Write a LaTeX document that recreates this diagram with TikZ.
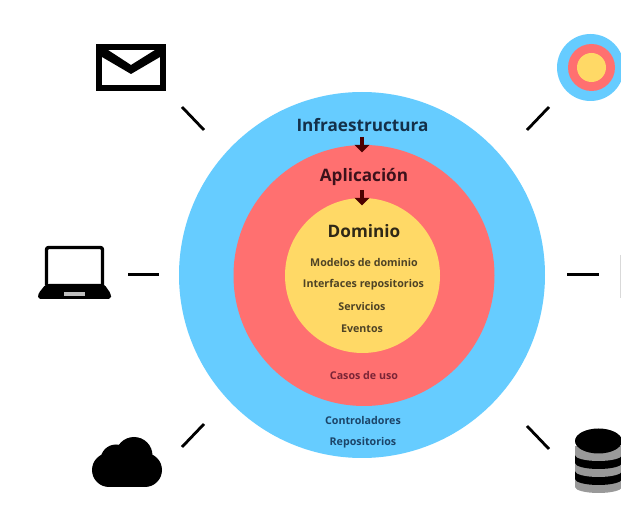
\documentclass[tikz,border=0pt]{standalone}
\usepackage{fontspec}
\setmainfont{Open Sans}
\usetikzlibrary{arrows.meta}
\definecolor{capaAzul}{HTML}{66CCFF}
\definecolor{capaRoja}{HTML}{FF7070}
\definecolor{capaAmarilla}{HTML}{FFD966}
\definecolor{textoAzul}{HTML}{1C4468}
\definecolor{textoRojo}{HTML}{7A2436}
\definecolor{textoOcre}{HTML}{4E4326}
\tikzset{
    titulo/.style={font=\fontsize{12.2}{14}\selectfont\bfseries},
    detalle/.style={font=\fontsize{7.6}{9}\selectfont\bfseries},
    marca/.style={line width=2pt, black},
    flecha/.style={line width=3pt, -{Triangle[length=5.5pt,width=10.5pt]}, draw=black!70!red},
}
\begin{document}
\begin{tikzpicture}[x=0.025cm,y=-0.025cm]
        \useasboundingbox (0,0) rectangle (621,525);

        % Circulos
        \fill[capaAzul] (362,275) circle (183);
        \fill[capaRoja] (364,275.5) circle (130.5);
        \fill[capaAmarilla] (362.5,275.5) circle (77.5);

        % Textos
        \node[titulo, text=textoAzul!70!black] (infra) at (362.5,125) {Infraestructura};
        \node[titulo, text=textoRojo!50!black] (apli) at (364,177) {Aplicación};
        \node[titulo, text=textoOcre!60!black] (dom) at (364,231) {Dominio};
        \node[detalle, text=textoOcre] (modelos) at (364,262) {Modelos de dominio};
        \node[detalle, text=textoOcre] (interfaces) at (363.5,285) {Interfaces repositorios};
        \node[detalle, text=textoOcre] (servicios) at (362,306.5) {Servicios};
        \node[detalle, text=textoOcre] (eventos) at (362,329) {Eventos};
        \node[detalle, text=textoRojo] (casos) at (364,375) {Casos de uso};
        \node[detalle, text=textoAzul] (contro) at (363,420) {Controladores};
        \node[detalle, text=textoAzul] (repos) at (363,442.5) {Repositorios};

        % Flechas
        \coordinate (f1a) at (362,137); \coordinate (f1b) at (362,152.5);
        \coordinate (f2a) at (362,190); \coordinate (f2b) at (362,205.5);
        \draw[flecha] (f1a) -- (f1b);
        \draw[flecha] (f2a) -- (f2b);

        % Marcas
        \coordinate (m1a) at (182,107); \coordinate (m1b) at (204,130);
        \coordinate (m2a) at (128,274.5); \coordinate (m2b) at (159,274.5);
        \coordinate (m3a) at (182,447); \coordinate (m3b) at (204,424);
        \coordinate (m4a) at (549,107); \coordinate (m4b) at (527,130);
        \coordinate (m5a) at (567,274.5); \coordinate (m5b) at (599,274.5);
        \coordinate (m6a) at (527,426); \coordinate (m6b) at (549,449);
        \foreach \a/\b in {m1a/m1b,m2a/m2b,m3a/m3b,m4a/m4b,m5a/m5b,m6a/m6b} \draw[marca] (\a) -- (\b);

        % Sobre
        \draw[black, line width=4.55pt] (99.2,47.2) rectangle (162.8,87.8);
        \fill[black] (102,50) -- (108,50) -- (131,65) -- (155,50) -- (160,50) -- (160,57) -- (131,74) -- (102,57) -- cycle;

        % Portatil
        \draw[black, line width=2.4pt, rounded corners=1.5pt] (46.5,285) -- (46.5,247.5) -- (102.5,247.5) -- (102.5,285);
        \fill[black, rounded corners=2pt] (46,284) -- (104,284) -- (111,294) -- (111,299) -- (38,299) -- (38,294) -- cycle;
        \fill[black!25] (64,292) rectangle (85,296.5);

        % Nube
        \fill[black] (109,470) circle (17);
        \fill[black] (145,470) circle (17);
        \fill[black] (116,460) circle (15.5);
        \fill[black] (134,455.5) circle (18.5);
        \fill[black] (109,465) rectangle (145,487);

        % Diana
        \fill[capaAzul] (590.5,67.5) circle (33.5);
        \fill[capaRoja] (591.5,67.5) circle (23.5);
        \fill[capaAmarilla] (591.5,67.5) circle (14.5);

        % Base de datos
        \foreach \y/\c in {487/black!40,479/black,471/black!40,463/black,455/black!40} {
            \fill[\c] (598.5,\y) ellipse (23.5 and 6);
            \fill[\c] (575,\y-9) rectangle (622,\y);
        }
        \fill[black] (598.5,441) ellipse (23.5 and 12.5);

        % Borde
        \draw[black!15, line width=0.7pt] (620.6,255) -- (620.6,298);
\end{tikzpicture}
\end{document}
